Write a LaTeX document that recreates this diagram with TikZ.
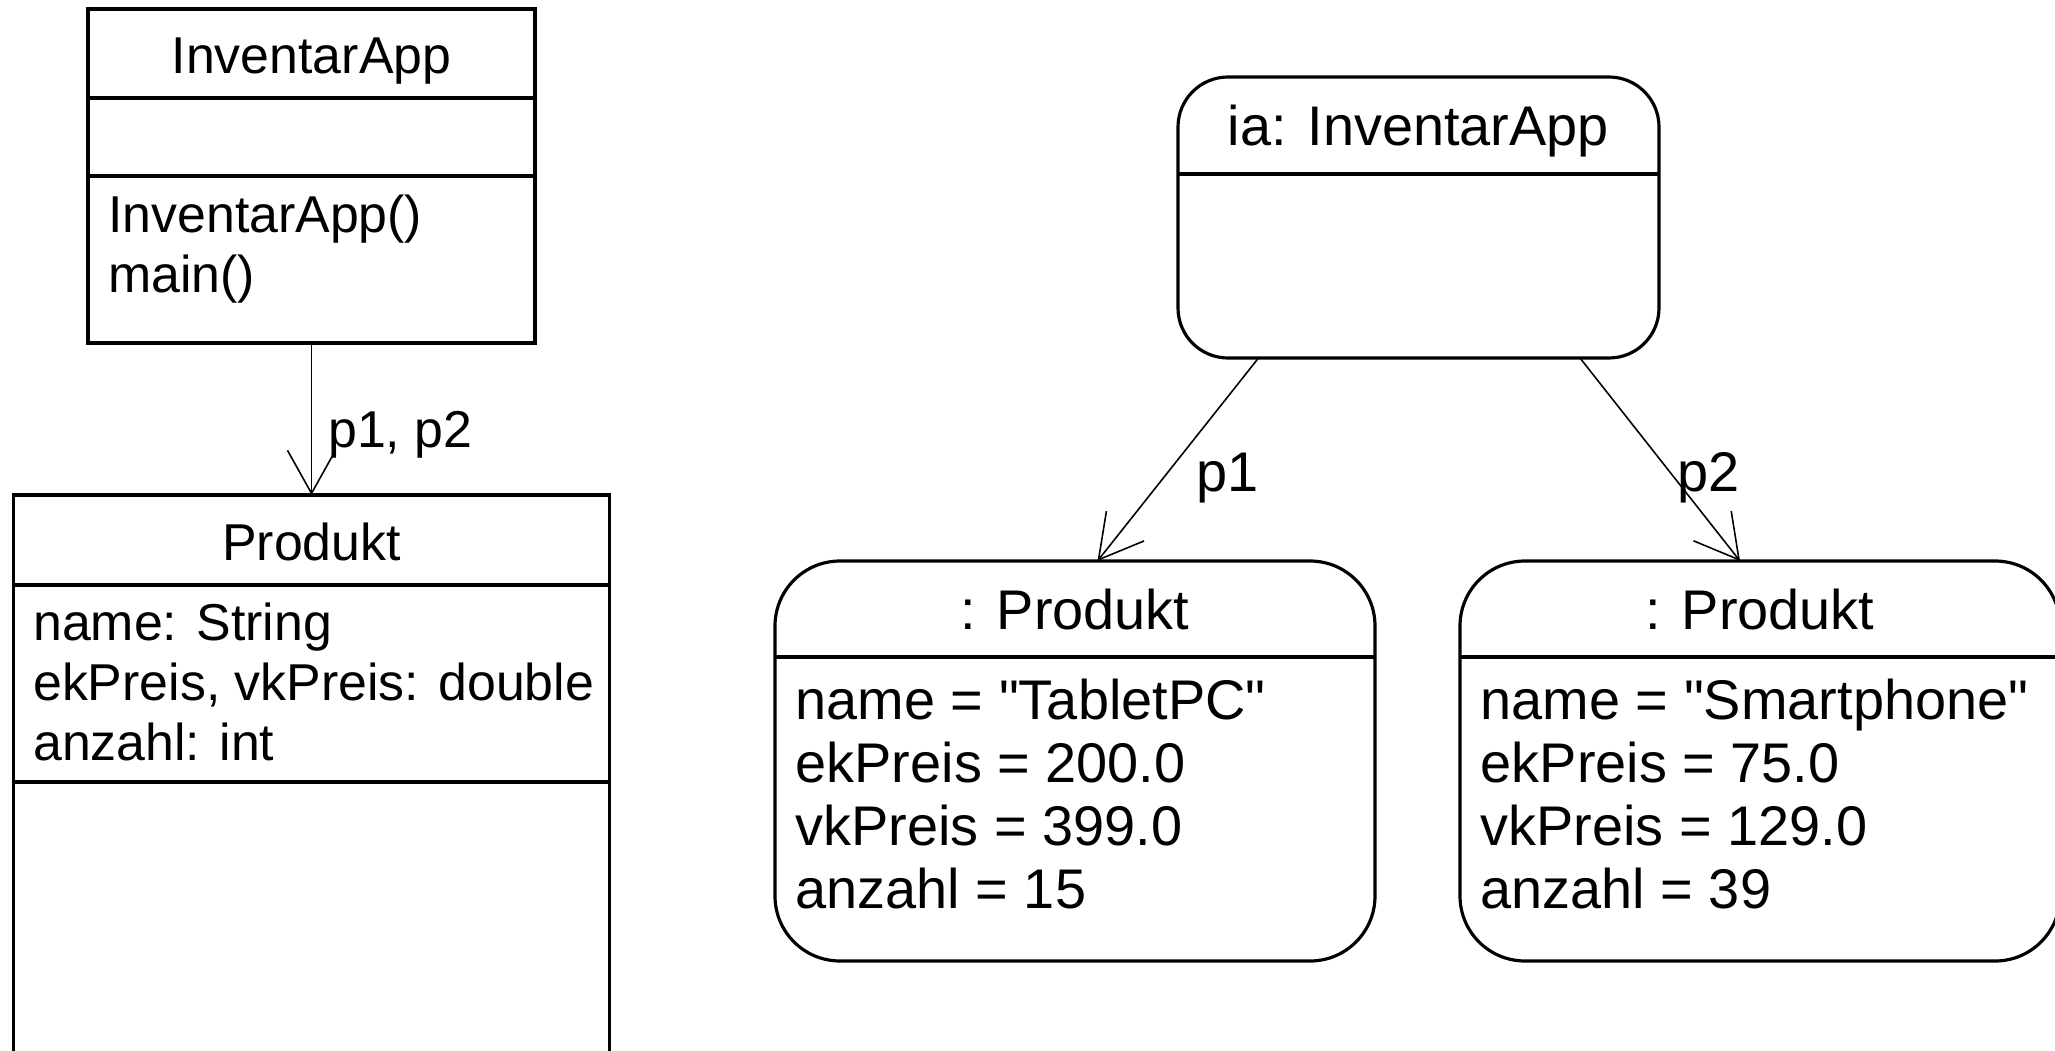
\documentclass[tikz,border=0pt]{standalone}
\usepackage{fontspec}
\newfontfamily\umlfont{Liberation Sans}
\usepackage{tikz}
\usetikzlibrary{arrows.meta,positioning}
\tikzset{
  ubox/.style={draw=black,line width=1pt,outer sep=0pt,inner sep=0pt},
  uhead/.style={font=\umlfont\fontsize{14.75}{17}\selectfont,text height=5mm,text depth=1mm},
  utext/.style={font=\umlfont\fontsize{14.75}{17.07}\selectfont,align=left,anchor=base west,inner sep=0pt},
  obox/.style={draw=black,line width=0.9pt,rounded corners=6.5mm,outer sep=0pt,inner sep=0pt},
  ohead/.style={outer sep=0pt,inner sep=0pt,font=\umlfont\fontsize{15.9}{17.9}\selectfont,text height=5mm,text depth=1mm},
  otext/.style={font=\umlfont\fontsize{15.9}{17.86}\selectfont,align=left,anchor=base west,inner sep=0pt},
  divider/.style={line width=1pt},
  assoc/.style={-{Straight Barb[length=4.3mm,width=4.8mm]},line width=0.45pt},
  rolelabel/.style={inner sep=0pt,anchor=base west}
}

\begin{document}
\begin{tikzpicture}[x=1cm,y=1cm]
  \useasboundingbox (0,0) rectangle (20.55,-10.51);
  \clip (0,0) rectangle (20.55,-10.51);
  \tikzset{
    classbox/.style={ubox,minimum width=4.47cm},
    prodbox/.style={ubox,minimum width=5.96cm},
    objbox/.style={obox,minimum width=6cm,minimum height=4cm}
  }

  \node[classbox,uhead,minimum height=8.9mm,anchor=north west] (appHead) at (0.88,-0.09) {InventarApp};
  \node[classbox,minimum height=7.8mm,below=0pt of appHead] (appAttr) {};
  \node[classbox,minimum height=16.7mm,below=0pt of appAttr] (appOps) {};
  \node[utext] (appOpsText) at ([shift={(0.195,-1.165)}]appOps.north west) {InventarApp()\\main()};

  \node[prodbox,uhead,minimum height=9mm,below=15.2mm of appOps] (prodHead) {Produkt};
  \node[prodbox,minimum height=19.7mm,below=0pt of prodHead] (prodAttr) {};
  \node[prodbox,minimum height=40mm,below=0pt of prodAttr] (prodOps) {};
  \node[utext] (prodAttrText) at ([shift={(0.19,-1.75)}]prodAttr.north west)
    {name: String\\ekPreis, vkPreis: double\\anzahl: int};
  \draw[assoc] (appOps) -- node[rolelabel,pos=0.69,xshift=1.6mm,font=\umlfont\fontsize{14.75}{17}\selectfont]{p1, p2} (prodHead);

  \node[obox,rounded corners=5mm,minimum width=4.81cm,minimum height=2.81cm,anchor=north west] (ia) at (11.78,-0.77) {};
  \node[ohead,minimum width=4.81cm,minimum height=9.7mm,anchor=north] (iaHead) at (ia.north) {ia: InventarApp};
  \draw[divider] (iaHead.south west) -- (iaHead.south east);

  \node[objbox,anchor=north west] (tablet) at (7.75,-5.61) {};
  \node[ohead,minimum width=6cm,minimum height=9.6mm,anchor=north] (tabletHead) at (tablet.north) {: Produkt};
  \draw[divider] (tabletHead.south west) -- (tabletHead.south east);
  \node[otext] (tabletText) at ([shift={(0.2,-2.51)}]tabletHead.south west)
    {name = "TabletPC"\\ekPreis = 200.0\\vkPreis = 399.0\\anzahl = 15};

  \node[objbox,right=8.5mm of tablet] (smart) {};
  \node[ohead,minimum width=6cm,minimum height=9.6mm,anchor=north] (smartHead) at (smart.north) {: Produkt};
  \draw[divider] (smartHead.south west) -- (smartHead.south east);
  \node[otext] (smartText) at ([shift={(0.2,-2.51)}]smartHead.south west)
    {name = "Smartphone"\\ekPreis = 75.0\\vkPreis = 129.0\\anzahl = 39};

  \draw[assoc] ([xshift=-16mm]ia.south) -- node[rolelabel,pos=0.66,xshift=4.3mm,font=\umlfont\fontsize{15.9}{17.9}\selectfont]{p1} ([xshift=2.25mm]tablet.north);
  \draw[assoc] ([xshift=16.15mm]ia.south) -- node[rolelabel,pos=0.66,xshift=-0.9mm,font=\umlfont\fontsize{15.9}{17.9}\selectfont]{p2} ([xshift=-2mm]smart.north);
\end{tikzpicture}
\end{document}
